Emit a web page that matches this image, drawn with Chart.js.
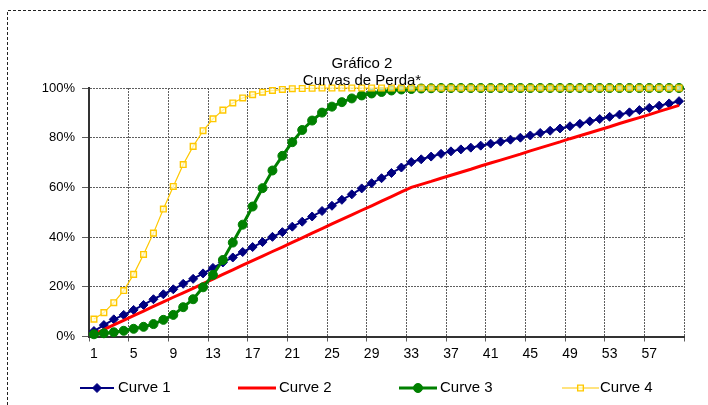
<!DOCTYPE html>
<html>
<head>
<meta charset="utf-8">
<script src="https://cdn.jsdelivr.net/npm/chart.js@4/dist/chart.umd.min.js"></script>
<style>
  html, body { margin: 0; padding: 0; background: #fff; }
  #wrap { position: relative; width: 708px; height: 405px; }
</style>
</head>
<body>
<div id="wrap"><canvas id="chart" width="708" height="405"></canvas></div>
<script>
// Chart data (values in %)
const titleLines = ['Gráfico 2', 'Curvas de Perda*'];
const periods = [1, 2, 3, 4, 5, 6, 7, 8, 9, 10, 11, 12, 13, 14, 15, 16, 17, 18, 19, 20,
  21, 22, 23, 24, 25, 26, 27, 28, 29, 30, 31, 32, 33, 34, 35, 36, 37, 38, 39, 40,
  41, 42, 43, 44, 45, 46, 47, 48, 49, 50, 51, 52, 53, 54, 55, 56, 57, 58, 59, 60];
const seriesNames = ['Curve 1', 'Curve 2', 'Curve 3', 'Curve 4'];
const curve1 = [2.2, 4.6, 6.9, 8.7, 10.7, 12.7, 15, 17, 19, 21.2,
  23.2, 25.4, 27.6, 29.8, 31.8, 34, 36, 38, 40.1, 42,
  44.2, 46.2, 48.3, 50.5, 52.6, 55, 57.2, 59.6, 61.7, 63.7,
  65.8, 68, 70.2, 71.3, 72.4, 73.5, 74.5, 75.3, 76, 76.8,
  77.6, 78.4, 79.2, 80, 80.9, 81.9, 82.8, 83.7, 84.6, 85.6,
  86.6, 87.5, 88.4, 89.3, 90.2, 91.1, 92, 92.9, 93.8, 94.7];
const curve2 = [1, 2.8, 4.7, 6.5, 8.4, 10.2, 12.1, 13.9, 15.8, 17.6,
  19.4, 21.3, 23.1, 25, 26.8, 28.7, 30.5, 32.3, 34.2, 36,
  37.9, 39.7, 41.6, 43.4, 45.3, 47.1, 48.9, 50.8, 52.6, 54.5,
  56.3, 58.2, 60, 61.2, 62.4, 63.7, 64.9, 66.1, 67.3, 68.6,
  69.8, 71, 72.2, 73.4, 74.7, 75.9, 77.1, 78.3, 79.6, 80.8,
  82, 83.2, 84.4, 85.7, 86.9, 88.1, 89.3, 90.6, 91.8, 93];
const curve3 = [0.9, 1.3, 1.7, 2.3, 3.1, 3.9, 5, 6.7, 8.7, 11.8,
  15, 19.8, 24.8, 30.8, 37.8, 45, 52.3, 59.7, 66.8, 72.7,
  78.2, 83.1, 86.9, 90.1, 92.5, 94.3, 95.8, 97, 97.8, 98.4,
  99, 99.4, 99.6, 99.8, 99.9, 100, 100, 100, 100, 100,
  100, 100, 100, 100, 100, 100, 100, 100, 100, 100,
  100, 100, 100, 100, 100, 100, 100, 100, 100, 100];
const curve4 = [7, 9.6, 13.6, 18.5, 25, 33, 41.6, 51.3, 60.4, 69.2,
  76.5, 82.8, 87.6, 91.1, 94, 96, 97.3, 98.3, 99, 99.4,
  99.7, 99.8, 99.9, 100, 100, 100, 100, 100, 100, 100,
  100, 100, 100, 100, 100, 100, 100, 100, 100, 100,
  100, 100, 100, 100, 100, 100, 100, 100, 100, 100,
  100, 100, 100, 100, 100, 100, 100, 100, 100, 100];
const yTicks = [0, 20, 40, 60, 80, 100];

const FONT = '"Liberation Sans", Arial, sans-serif';
const gridColor = '#5e5e5e';
const axisColor = '#333';

// legend slots: line start, line end, text x
const legendSlots = [[80, 114, 118], [238, 276, 279], [399, 437, 440], [562, 599, 600]];

function drawMarker(ctx, style, x, y, r, fill, stroke, lw) {
  ctx.save();
  ctx.beginPath();
  if (style === 'rectRot') {
    ctx.moveTo(x, y - r); ctx.lineTo(x + r, y); ctx.lineTo(x, y + r); ctx.lineTo(x - r, y);
    ctx.closePath();
  } else if (style === 'rect') {
    const s = r * Math.SQRT1_2;
    ctx.rect(x - s, y - s, 2 * s, 2 * s);
  } else {
    ctx.arc(x, y, r, 0, Math.PI * 2);
  }
  ctx.fillStyle = fill;
  ctx.fill();
  ctx.lineWidth = lw;
  ctx.strokeStyle = stroke;
  ctx.stroke();
  ctx.restore();
}

// Frame, title and legend drawn around the plot
const decorPlugin = {
  id: 'decor',
  beforeDraw(chart) {
    const ctx = chart.ctx;
    ctx.save();
    ctx.strokeStyle = '#222';
    ctx.lineWidth = 1;
    ctx.setLineDash([3, 2]);
    ctx.beginPath();
    ctx.moveTo(7.5, 405);
    ctx.lineTo(7.5, 10.5);
    ctx.lineTo(708, 10.5);
    ctx.stroke();
    ctx.restore();
  },
  afterDraw(chart) {
    const ctx = chart.ctx;
    ctx.save();
    ctx.fillStyle = '#000';
    ctx.font = '15px ' + FONT;
    ctx.textAlign = 'center';
    ctx.textBaseline = 'middle';
    ctx.fillText(titleLines[0], 362, 64);
    ctx.fillText(titleLines[1], 362, 81);

    ctx.textAlign = 'left';
    ctx.font = '15px ' + FONT;
    const y = 388;
    chart.data.datasets.forEach((ds, i) => {
      const [x0, x1, tx] = legendSlots[i];
      ctx.save();
      ctx.strokeStyle = ds.borderColor;
      ctx.lineWidth = ds.borderWidth;
      ctx.beginPath();
      ctx.moveTo(x0, y);
      ctx.lineTo(x1, y);
      ctx.stroke();
      ctx.restore();
      if (ds.pointRadius > 0) {
        drawMarker(ctx, ds.pointStyle, (x0 + x1) / 2, y, ds.pointRadius,
          ds.pointBackgroundColor, ds.pointBorderColor, ds.pointBorderWidth);
      }
      ctx.fillStyle = '#000';
      ctx.fillText(ds.label, tx, y);
    });
    ctx.restore();
  }
};

new Chart(document.getElementById('chart'), {
  type: 'line',
  data: {
    labels: periods,
    datasets: [
      {
        label: seriesNames[0],
        data: curve1,
        borderColor: '#000080',
        borderWidth: 2,
        pointStyle: 'rectRot',
        pointRadius: 4.5,
        pointBackgroundColor: '#000080',
        pointBorderColor: '#000080',
        pointBorderWidth: 1,
        order: 4,
      },
      {
        label: seriesNames[1],
        data: curve2,
        borderColor: '#ff0000',
        borderWidth: 3,
        pointRadius: 0,
        order: 3,
      },
      {
        label: seriesNames[2],
        data: curve3,
        borderColor: '#008000',
        borderWidth: 3,
        pointStyle: 'circle',
        pointRadius: 4.5,
        pointBackgroundColor: '#008000',
        pointBorderColor: '#008000',
        pointBorderWidth: 1,
        order: 2,
      },
      {
        label: seriesNames[3],
        data: curve4,
        borderColor: '#ffc800',
        borderWidth: 1.2,
        pointStyle: 'rect',
        pointRadius: 4,
        pointBackgroundColor: 'rgba(255,255,220,0.7)',
        pointBorderColor: '#ffc800',
        pointBorderWidth: 1.4,
        order: 1,
      },
    ]
  },
  options: {
    responsive: false,
    animation: false,
    clip: false,
    layout: { padding: { top: 88, right: 24, bottom: 0, left: 0 } },
    plugins: {
      legend: { display: false },
      title: { display: false },
      tooltip: { enabled: false }
    },
    elements: { line: { tension: 0 } },
    scales: {
      x: {
        offset: true,
        afterFit: s => { s.height = 68.5; },
        grid: {
          offset: true,
          tickLength: 5,
          lineWidth: 1,
          color: c => (c.index === undefined || c.index % 4 === 0) ? gridColor : 'rgba(0,0,0,0)'
        },
        border: { display: true, color: axisColor, width: 2, dash: [2, 1] },
        ticks: {
          autoSkip: false,
          maxRotation: 0,
          minRotation: 0,
          padding: 4,
          color: '#000',
          font: { family: FONT, size: 14 },
          callback: (v, i) => (i % 4 === 0 ? String(periods[i]) : '')
        }
      },
      y: {
        min: 0,
        max: 100,
        afterFit: s => { s.width = 89; },
        afterBuildTicks: s => { s.ticks = yTicks.map(v => ({ value: v })); },
        grid: { tickLength: 7, lineWidth: 1, color: gridColor },
        border: { display: true, color: axisColor, width: 2, dash: [2, 1] },
        ticks: {
          padding: 7,
          color: '#000',
          font: { family: FONT, size: 13 },
          callback: v => v + '%'
        }
      }
    }
  },
  plugins: [decorPlugin]
});
</script>
</body>
</html>
